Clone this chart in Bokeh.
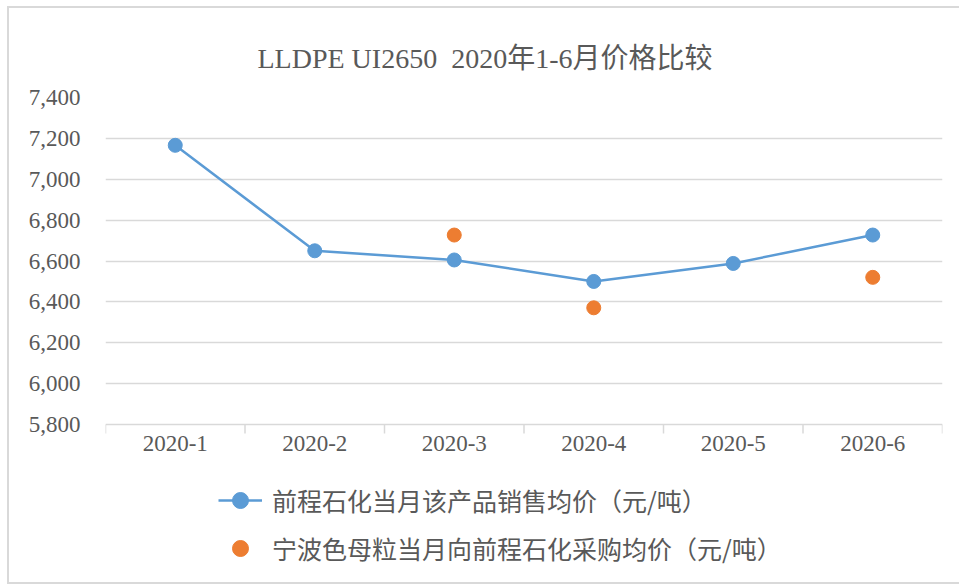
import math
from bokeh.plotting import figure
from bokeh.models import FixedTicker, NumeralTickFormatter, Range1d, Legend, LegendItem
from bokeh.core.properties import value
from bokeh.embed import file_html
from bokeh.resources import INLINE

months = ["2020-1", "2020-2", "2020-3", "2020-4", "2020-5", "2020-6"]
sales_price = [7166, 6650, 6605, 6500, 6588, 6727]
purchase_months = ["2020-3", "2020-4", "2020-6"]
purchase_price = [6727, 6371, 6520]
y_ticks = [5800, 6000, 6200, 6400, 6600, 6800, 7000, 7200, 7400]

series1_name = "前程石化当月该产品销售均价（元/吨）"
series2_name = "宁波色母粒当月向前程石化采购均价（元/吨）"
title_text = "LLDPE UI2650\u00a0 2020年1-6月价格比较"

blue = "#5B9BD5"
orange = "#ED7D31"
grid = "#D9D9D9"
txt = "#595959"
serif = "'Liberation Serif', 'Noto Sans CJK SC'"
cjk = "'Noto Sans CJK SC'"

centers = [i + 0.5 for i in range(len(months))]
bounds = [i for i in range(len(months) + 1)]
pos = {m: c for m, c in zip(months, centers)}
px = [pos[m] for m in purchase_months]

# layout: value area is 327px tall, the frame continues below it for the category labels and legend
plot_h = 327
frame_h = 485
y_lo, y_hi = y_ticks[0], y_ticks[-1]
y_start = y_lo - (frame_h - plot_h) * (y_hi - y_lo) / plot_h

p = figure(frame_width=837, frame_height=frame_h, output_backend="svg", toolbar_location=None,
           x_range=Range1d(0, len(months)), y_range=Range1d(y_start, y_hi),
           x_axis_location=None,
           min_border_left=96, min_border_right=17, min_border_top=89, min_border_bottom=0)

p.title.text = title_text
p.title.text_font = serif
p.title.text_font_size = "28px"
p.title.text_font_style = "normal"
p.title.text_color = txt
p.title.align = "left"
p.title.offset = 152
p.title.standoff = 47

p.outline_line_color = None
p.xgrid.grid_line_color = None
p.ygrid.grid_line_color = grid
p.ygrid.grid_line_width = 1.5

ya = p.yaxis[0]
ya.ticker = FixedTicker(ticks=y_ticks)
ya.formatter = NumeralTickFormatter(format="0,0")
ya.axis_line_color = None
ya.major_tick_line_color = None
ya.minor_tick_line_color = None
ya.major_label_text_font = serif
ya.major_label_text_font_size = "23px"
ya.major_label_text_color = txt
ya.major_label_standoff = 19
p.ygrid[0].ticker = FixedTicker(ticks=y_ticks)

# category axis: boundary ticks and labels under the 5,800 baseline
p.ray(x=bounds, y=[y_lo] * len(bounds), length=9, length_units="screen",
      angle=-math.pi / 2, line_color=grid, line_width=1.5)
p.text(x=centers, y=[y_lo] * len(centers), text=months, y_offset=11,
       text_align="center", text_baseline="top", text_font=value("Liberation Serif"),
       text_font_size="23px", text_color=txt)

l1 = p.line(centers, sales_price, line_color=blue, line_width=2.5)
s1 = p.scatter(centers, sales_price, size=14, fill_color=blue, line_color=blue)
s2 = p.scatter(px, purchase_price, size=14, fill_color=orange, line_color=orange)

legend = Legend(items=[LegendItem(label=series1_name, renderers=[l1, s1]),
                       LegendItem(label=series2_name, renderers=[s2])],
                location=(113, 14), orientation="vertical",
                border_line_color=None, background_fill_alpha=0,
                padding=0, margin=0, spacing=8,
                glyph_width=44, glyph_height=40, label_height=40,
                label_standoff=10, label_text_font=cjk,
                label_text_font_size="25px", label_text_color=txt)
p.add_layout(legend, "center")

p.styles = {"margin-left": "7px", "margin-top": "6px",
            "border-left": "2px solid #d9d9d9", "border-top": "2px solid #d9d9d9",
            "border-bottom": "2px solid #d9d9d9"}

open("out.html", "w").write(file_html(p, INLINE))
